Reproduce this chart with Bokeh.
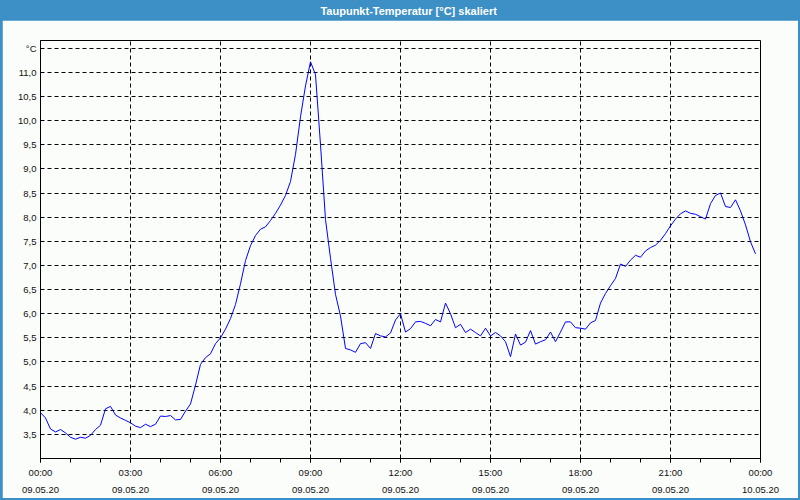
from bokeh.plotting import figure
from bokeh.layouts import column
from bokeh.models import FixedTicker, Label
from bokeh.embed import file_html
from bokeh.resources import INLINE

TITLE = "Taupunkt-Temperatur [°C] skaliert"

# 10-minute samples, 09.05.20 00:00 .. 23:50
dewpoint = [
    3.95, 3.84, 3.61, 3.55, 3.60, 3.53, 3.44, 3.40, 3.44, 3.42,
    3.48, 3.60, 3.69, 4.03, 4.08, 3.90, 3.84, 3.79, 3.74, 3.67,
    3.64, 3.71, 3.66, 3.71, 3.88, 3.87, 3.89, 3.80, 3.81, 3.98,
    4.13, 4.52, 4.95, 5.09, 5.17, 5.38, 5.50, 5.68, 5.90, 6.19,
    6.62, 7.10, 7.41, 7.62, 7.75, 7.80, 7.93, 8.08, 8.25, 8.45,
    8.74, 9.30, 10.08, 10.72, 11.22, 10.95, 9.50, 7.95, 7.15, 6.40,
    5.95, 5.28, 5.25, 5.20, 5.38, 5.40, 5.28, 5.59, 5.54, 5.52,
    5.60, 5.87, 6.00, 5.62, 5.69, 5.83, 5.84, 5.80, 5.75, 5.88,
    5.83, 6.22, 6.00, 5.71, 5.78, 5.61, 5.68, 5.61, 5.54, 5.70,
    5.54, 5.61, 5.54, 5.42, 5.11, 5.58, 5.35, 5.41, 5.65, 5.37,
    5.42, 5.46, 5.62, 5.42, 5.62, 5.83, 5.83, 5.71, 5.70, 5.68,
    5.81, 5.86, 6.22, 6.42, 6.58, 6.73, 7.03, 6.98, 7.11, 7.21,
    7.17, 7.30, 7.37, 7.42, 7.52, 7.66, 7.82, 7.96, 8.07, 8.13,
    8.08, 8.06, 8.01, 7.96, 8.28, 8.45, 8.50, 8.22, 8.20, 8.36,
    8.13, 7.84, 7.49, 7.24,
]
hours = [i / 6 for i in range(len(dewpoint))]

x_ticks = [0, 3, 6, 9, 12, 15, 18, 21, 24]
x_tick_labels = ["00:00\n09.05.20", "03:00\n09.05.20", "06:00\n09.05.20",
                 "09:00\n09.05.20", "12:00\n09.05.20", "15:00\n09.05.20",
                 "18:00\n09.05.20", "21:00\n09.05.20", "00:00\n10.05.20"]
y_ticks = [3.5, 4.0, 4.5, 5.0, 5.5, 6.0, 6.5, 7.0, 7.5, 8.0, 8.5, 9.0,
           9.5, 10.0, 10.5, 11.0, 11.5]
y_tick_labels = ["3,5", "4,0", "4,5", "5,0", "5,5", "6,0", "6,5", "7,0",
                 "7,5", "8,0", "8,5", "9,0", "9,5", "10,0", "10,5", "11,0", "°C"]

BLUE = "#3d90c6"
BG = "#fbfdfb"
FONT = "Liberation Sans"


def key(v):
    return int(v) if float(v).is_integer() else v


# title bar
t = figure(width=800, height=20, x_range=(0, 800), y_range=(0, 20),
           output_backend="svg", toolbar_location=None,
           min_border=0, min_border_left=0, min_border_right=0,
           min_border_top=0, min_border_bottom=0)
t.axis.visible = False
t.grid.visible = False
t.outline_line_color = None
t.background_fill_color = BLUE
t.border_fill_color = BLUE
t.add_layout(Label(x=409, y=10, text=TITLE, text_align="center",
                   text_baseline="middle", text_color="white",
                   text_font=FONT, text_font_style="bold",
                   text_font_size="11px"))

# main chart
p = figure(width=796, height=478, x_range=(0, 24), y_range=(3.0, 11.66),
           output_backend="svg", toolbar_location=None,
           min_border_left=38, min_border_right=38,
           min_border_top=20, min_border_bottom=38,
           margin=(0, 2, 2, 2))
p.background_fill_color = BG
p.border_fill_color = BG
p.outline_line_color = "black"
p.outline_line_width = 1

p.line(hours, dewpoint, line_color="#0000ff", line_width=1)

xax = p.xaxis[0]
xax.ticker = FixedTicker(ticks=x_ticks, minor_ticks=list(range(25)))
xax.major_label_overrides = {key(v): s for v, s in zip(x_ticks, x_tick_labels)}
xax.major_tick_in = 0
xax.major_tick_out = 4
xax.minor_tick_in = 0
xax.minor_tick_out = 4
xax.major_label_standoff = 4
xax.major_label_text_font = FONT
xax.major_label_text_font_size = "9.5px"
xax.major_label_text_color = "#111111"
xax.major_label_text_line_height = 1.6
xax.axis_line_color = "black"

yax = p.yaxis[0]
yax.ticker = FixedTicker(ticks=y_ticks, minor_ticks=[])
yax.major_label_overrides = {key(v): s for v, s in zip(y_ticks, y_tick_labels)}
yax.major_tick_in = 0
yax.major_tick_out = 0
yax.minor_tick_in = 0
yax.minor_tick_out = 0
yax.major_label_standoff = 4
yax.major_label_text_font = FONT
yax.major_label_text_font_size = "9.5px"
yax.major_label_text_color = "#111111"
yax.axis_line_color = "black"

p.xgrid.ticker = FixedTicker(ticks=x_ticks[1:-1])
p.grid.grid_line_color = "black"
p.grid.grid_line_dash = "4 3"
p.grid.grid_line_width = 1

layout = column(t, p, styles={"background-color": BLUE})

open("out.html", "w").write(file_html(layout, INLINE))
